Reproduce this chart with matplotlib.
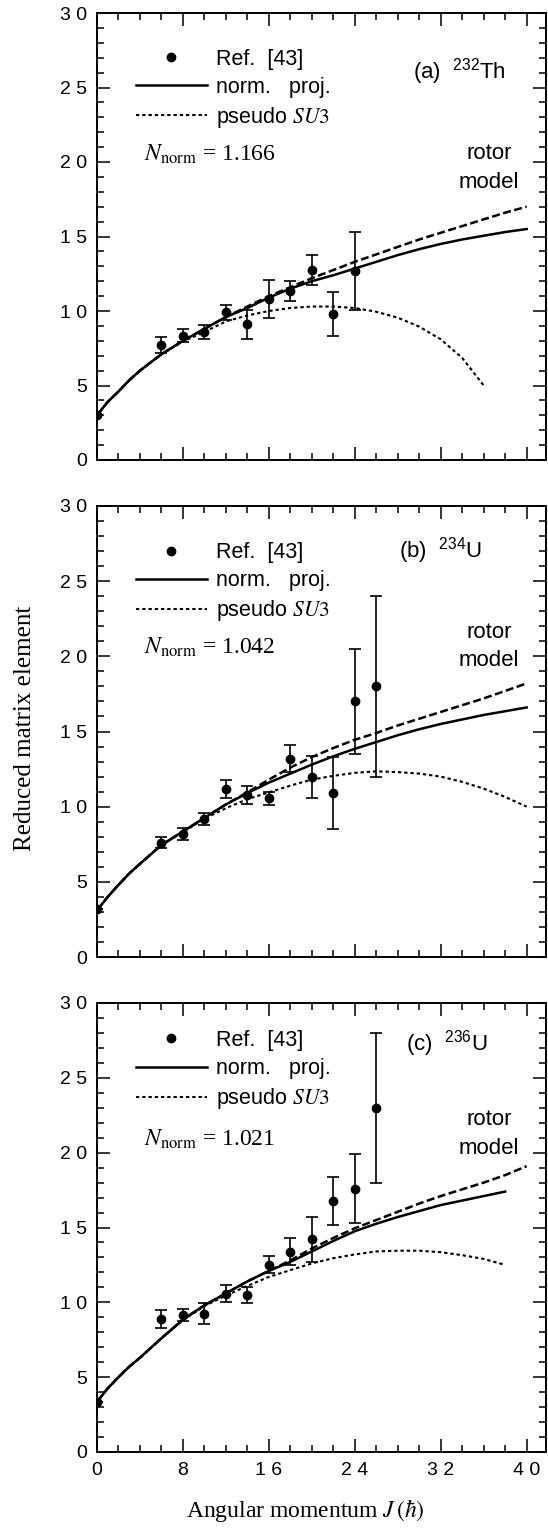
import numpy as np
import matplotlib
matplotlib.use('Agg')
import matplotlib.pyplot as plt
from matplotlib.ticker import MultipleLocator, FuncFormatter

plt.rcParams['font.family'] = ['Liberation Sans', 'DejaVu Sans']
plt.rcParams['mathtext.fontset'] = 'custom'
plt.rcParams['mathtext.rm'] = 'Liberation Sans'
plt.rcParams['mathtext.it'] = 'Liberation Sans:italic'

# ---- experimental points, Ref. [43] ----
J_exp_a = [0, 6, 8, 10, 12, 14, 16, 18, 20, 22, 24]
B_exp_a = [3.0, 7.7, 8.35, 8.6, 9.9, 9.1, 10.8, 11.35, 12.75, 9.8, 12.7]
err_a = [0, 0.55, 0.45, 0.45, 0.5, 1.0, 1.3, 0.65, 1.0, 1.5, 2.6]

J_exp_b = [0, 6, 8, 10, 12, 14, 16, 18, 20, 22, 24, 26]
B_exp_b = [3.2, 7.6, 8.15, 9.2, 11.2, 10.8, 10.55, 13.2, 12.0, 10.9, 17.0, 18.0]
err_b = [0, 0.35, 0.4, 0.4, 0.6, 0.6, 0.45, 0.9, 1.4, 2.4, 3.5, 6.0]

J_exp_c = [0, 6, 8, 10, 12, 14, 16, 18, 20, 22, 24, 26]
B_exp_c = [3.36, 8.86, 9.18, 9.25, 10.58, 10.49, 12.52, 13.38, 14.2, 16.8, 17.6, 23.0]
err_c = [0, 0.6, 0.4, 0.7, 0.58, 0.55, 0.55, 0.9, 1.5, 1.6, 2.3, 5.0]

# ---- theory curves (norm. proj., rotor model, pseudo SU3) ----
J_th = [0, 1, 2, 3, 4, 6, 8, 10, 12, 14, 16, 18, 20, 22, 24, 26, 28, 30, 32, 34, 36, 38, 40]

proj_a = [3.0, 3.9, 4.6, 5.35, 6.0, 7.1, 8.0, 8.8, 9.6, 10.2, 10.9, 11.5, 12.0, 12.4,
          12.85, 13.3, 13.75, 14.15, 14.5, 14.8, 15.05, 15.3, 15.5]
rotor_a = [3.0, 3.9, 4.6, 5.35, 6.0, 7.1, 8.0, 8.8, 9.6, 10.3, 11.0, 11.6, 12.2, 12.75,
           13.3, 13.8, 14.3, 14.8, 15.25, 15.7, 16.15, 16.6, 17.0]
J_su3_a = [0, 1, 2, 3, 4, 6, 8, 10, 12, 14, 16, 18, 20, 22, 24, 26, 28, 30, 32, 34, 36]
su3_a = [3.0, 3.9, 4.6, 5.35, 6.0, 7.1, 7.95, 8.6, 9.3, 9.7, 10.0, 10.2, 10.3, 10.3,
         10.2, 9.95, 9.55, 8.95, 8.1, 6.85, 5.0]

proj_b = [3.1, 4.0, 4.8, 5.55, 6.2, 7.45, 8.35, 9.25, 10.15, 10.9, 11.6, 12.2, 12.8,
          13.35, 13.85, 14.3, 14.75, 15.15, 15.5, 15.8, 16.1, 16.35, 16.6]
rotor_b = [3.1, 4.0, 4.8, 5.55, 6.2, 7.45, 8.35, 9.25, 10.15, 10.95, 11.8, 12.6, 13.3,
           13.9, 14.45, 14.9, 15.4, 15.85, 16.3, 16.75, 17.2, 17.7, 18.2]
su3_b = [3.1, 4.0, 4.8, 5.55, 6.2, 7.45, 8.3, 9.2, 9.9, 10.5, 10.95, 11.4, 11.8, 12.05,
         12.25, 12.35, 12.3, 12.2, 12.0, 11.65, 11.2, 10.65, 10.0]

J_th_c = [0, 1, 2, 3, 4, 6, 8, 10, 12, 14, 16, 18, 20, 22, 24, 26, 28, 30, 32, 34, 36, 38]
proj_c = [3.36, 4.25, 5.0, 5.7, 6.3, 7.6, 8.85, 9.8, 10.6, 11.4, 12.1, 12.7, 13.4, 14.1,
          14.75, 15.25, 15.7, 16.1, 16.5, 16.8, 17.1, 17.4]
rotor_c = [3.36, 4.25, 5.0, 5.7, 6.3, 7.6, 8.85, 9.8, 10.6, 11.4, 12.1, 12.8, 13.6, 14.3,
           14.95, 15.5, 16.05, 16.6, 17.1, 17.55, 18.0, 18.5, 19.1]
su3_c = [3.36, 4.25, 5.0, 5.7, 6.3, 7.6, 8.8, 9.75, 10.45, 11.1, 11.7, 12.15, 12.6, 12.95,
         13.2, 13.4, 13.45, 13.45, 13.35, 13.15, 12.9, 12.5]

n_norm = ['1.166', '1.042', '1.021']
nuclei = [r'(a)  $^{232}$Th', r'(b)  $^{234}$U', r'(c)  $^{236}$U']

panels = [
    dict(Je=J_exp_a, Be=B_exp_a, err=err_a,
         Jp=J_th, proj=proj_a, Jr=J_th, rotor=rotor_a, Js=J_su3_a, su3=su3_a,
         leg_y=0.92, nuc_xy=(29.4, 26.1), rot_y=(20.6, 18.6), nn_y=20.5),
    dict(Je=J_exp_b, Be=B_exp_b, err=err_b,
         Jp=J_th, proj=proj_b, Jr=J_th, rotor=rotor_b, Js=J_th, su3=su3_b,
         leg_y=0.92, nuc_xy=(28.1, 27.05), rot_y=(21.6, 19.7), nn_y=20.6),
    dict(Je=J_exp_c, Be=B_exp_c, err=err_c,
         Jp=J_th_c, proj=proj_c, Jr=J_th, rotor=rotor_c, Js=J_th_c, su3=su3_c,
         leg_y=0.94, nuc_xy=(28.8, 27.3), rot_y=(22.2, 20.3), nn_y=20.9),
]

fig = plt.figure(figsize=(5.48, 15.3), dpi=100)
W, H = 548.0, 1530.0
frames = [(13, 460), (506, 957), (1003, 1452)]   # top, bottom in pixels
x_left, x_right = 97, 546


def spaced(v, pos):
    return ' '.join(str(int(round(v))))


for i, (p, (top, bot)) in enumerate(zip(panels, frames)):
    ax = fig.add_axes([x_left / W, 1 - bot / H, (x_right - x_left) / W, (bot - top) / H])

    l_proj, = ax.plot(p['Jp'], p['proj'], color='k', linewidth=1.8)
    l_rot, = ax.plot(p['Jr'], p['rotor'], color='k', linewidth=1.8, dashes=(3.2, 1.4))
    l_su3, = ax.plot(p['Js'], p['su3'], color='k', linewidth=1.5, dashes=(1.6, 1.4))
    eb = ax.errorbar(p['Je'], p['Be'], yerr=p['err'], fmt='o', color='k',
                     markersize=6, capsize=4.5, elinewidth=1.2, capthick=1.2)

    ax.set_xlim(0, 41.8)
    ax.set_ylim(0, 30)
    ax.xaxis.set_major_locator(MultipleLocator(8))
    ax.xaxis.set_minor_locator(MultipleLocator(2))
    ax.yaxis.set_major_locator(MultipleLocator(5))
    ax.yaxis.set_minor_locator(MultipleLocator(1))
    ax.yaxis.set_major_formatter(FuncFormatter(spaced))
    ax.xaxis.set_major_formatter(FuncFormatter(spaced))
    ax.tick_params(which='both', direction='in', top=True, right=True, width=1.1,
                   labelsize=14)
    ax.tick_params(which='major', length=9.5, pad=7)
    ax.tick_params(which='minor', length=5)
    if i < 2:
        ax.tick_params(labelbottom=False)
    for s in ax.spines.values():
        s.set_linewidth(1.4)

    leg = ax.legend([eb[0], l_proj, l_su3],
                    ['Ref.  [43]', 'norm.   proj.', r'pseudo $SU3$'],
                    loc='upper left', bbox_to_anchor=(0.086, p['leg_y']),
                    frameon=False, fontsize=15.5, handlelength=3.3,
                    handletextpad=0.42, labelspacing=0.33, borderpad=0,
                    borderaxespad=0, numpoints=1)
    for t in leg.get_texts():
        t.set_math_fontfamily('stix')

    ax.text(p['nuc_xy'][0], p['nuc_xy'][1], nuclei[i], fontsize=16,
            va='center', ha='left', math_fontfamily='custom')
    ax.text(36.5, p['rot_y'][0], 'rotor', fontsize=16, ha='center', va='center')
    ax.text(36.5, p['rot_y'][1], 'model', fontsize=16, ha='center', va='center')
    ax.text(4.4, p['nn_y'], r'$N_{\rm norm}$ = ' + n_norm[i], family='Liberation Serif',
            fontsize=17, va='center', ha='left', math_fontfamily='stix')

fig.text(25 / W, 1 - 728 / H, 'Reduced matrix element', rotation=90,
         family='Liberation Serif', fontsize=18, ha='center', va='center')
fig.text(305 / W, 1 - 1510 / H, r'Angular momentum $J\,(\hbar)$',
         family='Liberation Serif', fontsize=17, ha='center', va='center',
         math_fontfamily='stix')

fig.savefig('out.png', dpi=100)
